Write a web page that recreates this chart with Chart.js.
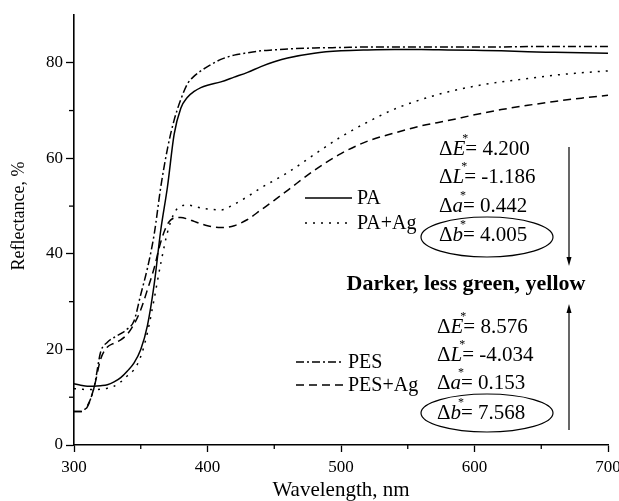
<!DOCTYPE html>
<html>
<head>
<meta charset="utf-8">
<script src="https://cdn.jsdelivr.net/npm/chart.js@4.4.0/dist/chart.umd.min.js"></script>
<style>
  html, body { margin: 0; padding: 0; background: #fff; }
</style>
</head>
<body>
<canvas id="chart" width="619" height="501"></canvas>
<script>
// wavelength in nm, reflectance in %
var wavelength = [300, 305, 310, 315, 320, 325, 330, 335, 340, 345, 350, 355, 360, 365, 370, 375, 380, 385, 390, 395,
                  400, 410, 420, 430, 440, 450, 460, 480, 500, 520, 540, 560, 580, 600, 620, 640, 660, 680, 700];

var pa    = [12.8, 12.5, 12.3, 12.3, 12.4, 12.6, 13.2, 14.1, 15.5, 17.2, 20.0, 25.0, 33.5, 45.0, 54.0, 65.0, 70.5, 72.8, 74.0, 74.8,
             75.3, 76.0, 77.0, 78.0, 79.2, 80.2, 81.0, 82.0, 82.5, 82.7, 82.8, 82.8, 82.7, 82.6, 82.5, 82.3, 82.2, 82.1, 82.0];
var paAg  = [11.8, 11.7, 11.6, 11.6, 11.7, 11.9, 12.3, 13.2, 14.5, 15.8, 18.5, 23.5, 30.5, 38.0, 44.5, 48.5, 50.0, 50.2, 50.0, 49.6,
             49.4, 49.2, 50.4, 52.0, 53.8, 55.4, 57.0, 60.8, 64.5, 67.6, 70.3, 72.3, 73.9, 75.1, 76.0, 76.7, 77.4, 77.9, 78.3];
var pes   = [7.0, 7.0, 8.2, 12.0, 19.5, 21.5, 22.5, 23.3, 24.3, 26.0, 31.5, 37.0, 44.0, 54.0, 62.0, 68.0, 72.3, 75.6, 77.2, 78.3,
             79.2, 80.7, 81.6, 82.1, 82.5, 82.7, 82.9, 83.1, 83.2, 83.3, 83.3, 83.3, 83.3, 83.3, 83.3, 83.4, 83.4, 83.4, 83.4];
var pesAg = [7.0, 7.0, 8.0, 12.0, 18.0, 20.5, 21.3, 22.0, 23.2, 25.3, 28.3, 32.5, 37.0, 42.5, 46.2, 47.5, 47.6, 47.3, 46.8, 46.3,
             45.9, 45.5, 45.9, 47.2, 49.2, 51.2, 53.3, 57.5, 61.0, 63.6, 65.3, 66.8, 67.9, 69.1, 70.2, 71.1, 71.9, 72.6, 73.2];

var xMinor = [350, 450, 550, 650];
var yMinor = [10, 30, 50, 70];

var seriesNames = ['PA', 'PA+Ag', 'PES', 'PES+Ag'];
var diffPA  = [['E', '4.200'], ['L', '-1.186'], ['a', '0.442'], ['b', '4.005']];
var diffPES = [['E', '8.576'], ['L', '-4.034'], ['a', '0.153'], ['b', '7.568']];

var SERIF = '"Liberation Serif", "Times New Roman", serif';

function pts(vals) {
    return wavelength.map(function(w, i) { return { x: w, y: vals[i] }; });
}

function line(label, vals, dash) {
    return {
        label: label,
        data: pts(vals),
        borderColor: '#000',
        borderWidth: 1.5,
        borderDash: dash,
        pointRadius: 0,
        fill: false,
        cubicInterpolationMode: 'monotone'
    };
}

var dashes = [[], [2, 6], [8, 3, 2, 3], [8, 5]];

function drawDiff(ctx, x, y, letter, value) {
    ctx.textBaseline = 'middle';
    ctx.textAlign = 'left';
    ctx.font = '21px ' + SERIF;
    ctx.fillText('\u0394', x, y);
    x += ctx.measureText('\u0394').width;
    ctx.font = 'italic 21px ' + SERIF;
    ctx.fillText(letter, x, y);
    var w = ctx.measureText(letter).width;
    ctx.font = '12px ' + SERIF;
    ctx.fillText('*', x + w - 3, y - 10);
    x += w;
    ctx.font = '21px ' + SERIF;
    ctx.fillText('= ' + value, x, y);
}

function arrow(ctx, x, y0, y1) {
    var dir = y1 > y0 ? 1 : -1;
    ctx.beginPath();
    ctx.moveTo(x, y0);
    ctx.lineTo(x, y1 - dir * 6);
    ctx.stroke();
    ctx.beginPath();
    ctx.moveTo(x, y1);
    ctx.lineTo(x - 2.5, y1 - dir * 9);
    ctx.lineTo(x + 2.5, y1 - dir * 9);
    ctx.closePath();
    ctx.fill();
}

var extras = {
    id: 'extras',
    afterDraw: function(chart) {
        var ctx = chart.ctx;
        var xs = chart.scales.x, ys = chart.scales.y;
        var area = chart.chartArea;
        ctx.save();
        ctx.strokeStyle = '#000';
        ctx.fillStyle = '#000';

        // minor ticks
        ctx.lineWidth = 1.3;
        ctx.setLineDash([]);
        xMinor.forEach(function(v) {
            var px = xs.getPixelForValue(v);
            ctx.beginPath(); ctx.moveTo(px, area.bottom); ctx.lineTo(px, area.bottom + 4); ctx.stroke();
        });
        yMinor.forEach(function(v) {
            var py = ys.getPixelForValue(v);
            ctx.beginPath(); ctx.moveTo(area.left, py); ctx.lineTo(area.left - 5, py); ctx.stroke();
        });

        // y title
        ctx.save();
        ctx.translate(19, 216);
        ctx.rotate(-Math.PI / 2);
        ctx.font = '18px ' + SERIF;
        ctx.textAlign = 'center';
        ctx.textBaseline = 'middle';
        ctx.fillText('Reflectance, %', 0, 0);
        ctx.restore();

        // legends
        var legendPos = [[305, 352, 198], [305, 352, 223], [296, 343, 362], [296, 343, 385]];
        ctx.lineWidth = 1.5;
        legendPos.forEach(function(p, i) {
            ctx.setLineDash(dashes[i]);
            ctx.beginPath(); ctx.moveTo(p[0], p[2]); ctx.lineTo(p[1], p[2]); ctx.stroke();
            ctx.setLineDash([]);
            ctx.font = '20px ' + SERIF;
            ctx.textAlign = 'left';
            ctx.textBaseline = 'middle';
            ctx.fillText(seriesNames[i], p[1] + 5, p[2] + 1);
        });

        // colour differences
        var rowsPA = [149, 177, 206, 235];
        var rowsPES = [327, 355, 383, 413];
        diffPA.forEach(function(d, i) { drawDiff(ctx, 439, rowsPA[i], d[0], d[1]); });
        diffPES.forEach(function(d, i) { drawDiff(ctx, 437, rowsPES[i], d[0], d[1]); });

        ctx.lineWidth = 1.2;
        ctx.beginPath(); ctx.ellipse(487, 237, 66, 20, 0, 0, Math.PI * 2); ctx.stroke();
        ctx.beginPath(); ctx.ellipse(487, 413, 66, 19, 0, 0, Math.PI * 2); ctx.stroke();

        arrow(ctx, 569, 147, 266);
        arrow(ctx, 569, 430, 304);

        ctx.font = 'bold 22px ' + SERIF;
        ctx.textAlign = 'center';
        ctx.textBaseline = 'middle';
        ctx.fillText('Darker, less green, yellow', 466, 284);
        ctx.restore();
    }
};

new Chart(document.getElementById('chart'), {
    type: 'line',
    data: {
        datasets: [
            line(seriesNames[0], pa, dashes[0]),
            line(seriesNames[1], paAg, dashes[1]),
            line(seriesNames[2], pes, dashes[2]),
            line(seriesNames[3], pesAg, dashes[3])
        ]
    },
    options: {
        responsive: false,
        animation: false,
        layout: { padding: { top: 15, right: 11, left: 0, bottom: 0 } },
        plugins: { legend: { display: false }, tooltip: { enabled: false } },
        scales: {
            x: {
                type: 'linear',
                min: 300, max: 700,
                border: { color: '#000', width: 1.6 },
                grid: { drawOnChartArea: false, drawTicks: true, tickLength: 7, tickColor: '#000', tickWidth: 1.3 },
                ticks: { stepSize: 100, color: '#000', padding: 5, maxRotation: 0,
                         font: { family: SERIF, size: 17 } },
                title: { display: true, text: 'Wavelength, nm', color: '#000',
                         font: { family: SERIF, size: 21, lineHeight: 1 }, padding: { top: 0, bottom: 0 } },
                afterFit: function(s) { s.height = 56; s.paddingLeft = 0; s.paddingRight = 0; }
            },
            y: {
                min: 0, max: 90,
                border: { color: '#000', width: 1.6 },
                grid: { drawOnChartArea: false, drawTicks: true, tickLength: 8, tickColor: '#000', tickWidth: 1.3 },
                ticks: { stepSize: 20, includeBounds: false, color: '#000', padding: 3,
                         font: { family: SERIF, size: 17 } },
                afterFit: function(s) { s.width = 74; s.paddingTop = 0; s.paddingBottom = 0; }
            }
        }
    },
    plugins: [extras]
});
</script>
</body>
</html>
